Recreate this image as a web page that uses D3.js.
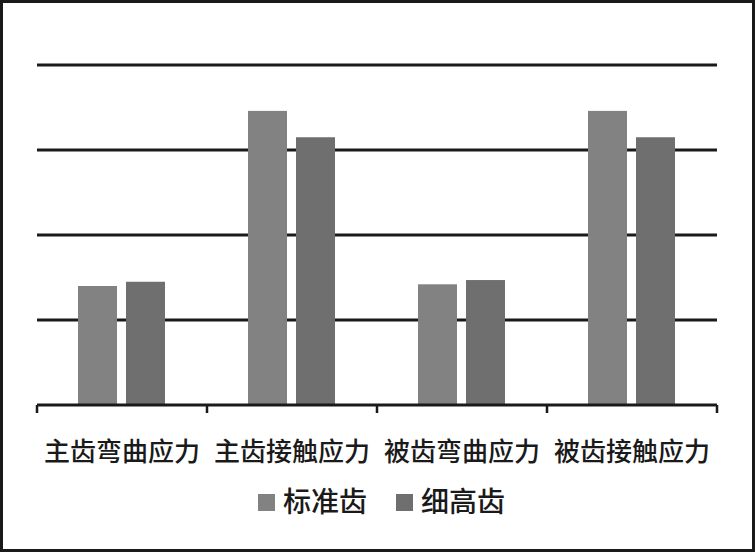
<!DOCTYPE html>
<html>
<head>
<meta charset="utf-8">
<script src="https://cdn.jsdelivr.net/npm/d3@7/dist/d3.min.js"></script>
<style>
  html, body { margin: 0; padding: 0; background: #fff; }
  svg { display: block; }
</style>
</head>
<body>
<div id="chart"></div>
<script>
// Chart data
const categories = ['主齿弯曲应力', '主齿接触应力', '被齿弯曲应力', '被齿接触应力'];
const seriesNames = ['标准齿', '细高齿'];
const standard = [140, 346, 142, 346];
const slim = [145, 315, 147, 315];
const yTicks = [0, 100, 200, 300, 400];

const width = 755, height = 552;
const margin = { top: 65, right: 38, bottom: 147, left: 37 };
const innerW = width - margin.left - margin.right;
const innerH = height - margin.top - margin.bottom;

const colors = ['#828282', '#6f6f6f'];
const font = '"Noto Sans CJK SC", "Noto Sans", sans-serif';

const svg = d3.select('#chart').append('svg')
    .attr('width', width)
    .attr('height', height);

// outer frame
svg.append('rect')
    .attr('x', 1.5).attr('y', 1.5)
    .attr('width', width - 3).attr('height', height - 3)
    .attr('fill', '#fff')
    .attr('stroke', '#1a1a1a')
    .attr('stroke-width', 3);

const g = svg.append('g')
    .attr('transform', `translate(${margin.left},${margin.top})`);

const x = d3.scaleBand()
    .domain(categories)
    .range([0, innerW]);

const y = d3.scaleLinear()
    .domain([0, 400])
    .range([innerH, 0]);

// gridlines (behind bars)
g.selectAll('.grid')
    .data(yTicks.filter(d => d > 0))
    .enter()
    .append('line')
    .attr('class', 'grid')
    .attr('x1', 0).attr('x2', innerW)
    .attr('y1', d => y(d)).attr('y2', d => y(d))
    .attr('stroke', '#1a1a1a')
    .attr('stroke-width', 3);

// bars
const rows = categories.map((c, i) => ({ cat: c, vals: [standard[i], slim[i]] }));
const xInner = d3.scaleBand()
    .domain([0, 1])
    .range([41, x.bandwidth() - 42])
    .paddingInner(0.1875);

const groups = g.selectAll('.group')
    .data(rows)
    .enter()
    .append('g')
    .attr('class', 'group')
    .attr('transform', d => `translate(${x(d.cat)},0)`);

groups.selectAll('rect')
    .data(d => d.vals)
    .enter()
    .append('rect')
    .attr('x', (d, i) => xInner(i))
    .attr('width', xInner.bandwidth())
    .attr('y', d => y(d))
    .attr('height', d => innerH - y(d))
    .attr('fill', (d, i) => colors[i]);

// x axis
const xAxis = g.append('g')
    .attr('transform', `translate(0,${innerH})`);

xAxis.append('line')
    .attr('x1', 0).attr('x2', innerW)
    .attr('y1', 0).attr('y2', 0)
    .attr('stroke', '#1a1a1a')
    .attr('stroke-width', 3);

const tickXs = categories.map(c => x(c)).concat([innerW]);
xAxis.selectAll('.tick')
    .data(tickXs)
    .enter()
    .append('line')
    .attr('x1', d => d).attr('x2', d => d)
    .attr('y1', 0).attr('y2', 8)
    .attr('stroke', '#1a1a1a')
    .attr('stroke-width', 2.5);

xAxis.selectAll('.label')
    .data(categories)
    .enter()
    .append('text')
    .attr('x', d => x(d) + x.bandwidth() / 2)
    .attr('y', 56)
    .attr('text-anchor', 'middle')
    .attr('font-family', font)
    .attr('font-size', '26px')
    .attr('font-weight', 500)
    .attr('fill', '#1a1a1a')
    .text(d => d);

// legend
const legendItems = [
    { name: seriesNames[0], x: 258 },
    { name: seriesNames[1], x: 396 }
];
const legend = svg.selectAll('.legend')
    .data(legendItems)
    .enter()
    .append('g')
    .attr('transform', d => `translate(${d.x},494)`);

legend.append('rect')
    .attr('width', 17).attr('height', 17)
    .attr('fill', (d, i) => colors[i]);

legend.append('text')
    .attr('x', 25)
    .attr('y', 18)
    .attr('font-family', font)
    .attr('font-size', '28px')
    .attr('font-weight', 500)
    .attr('fill', '#1a1a1a')
    .text(d => d.name);
</script>
</body>
</html>
